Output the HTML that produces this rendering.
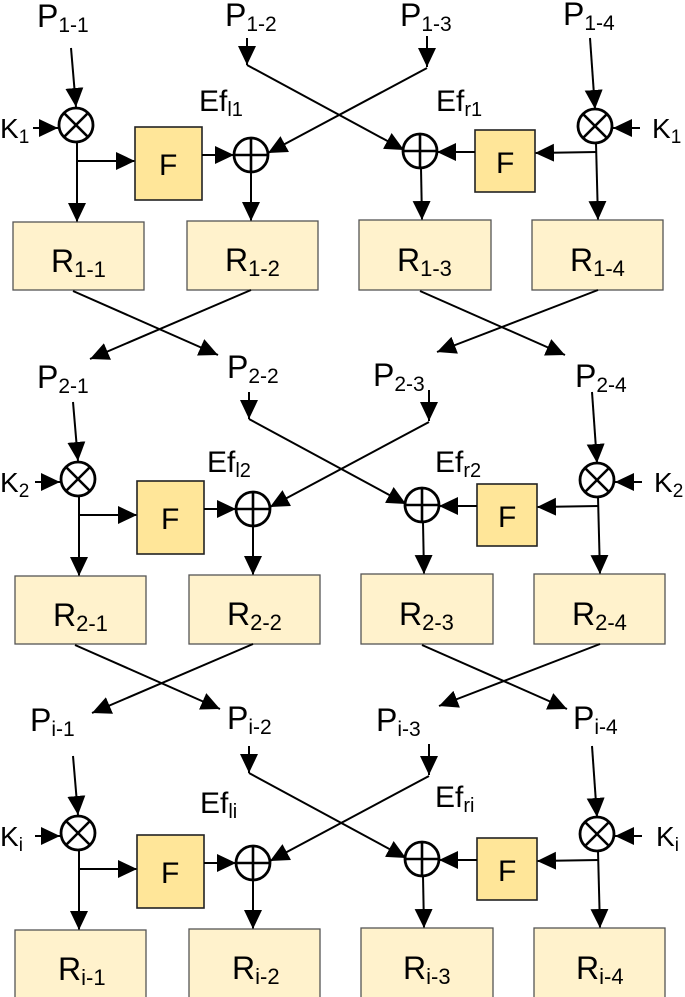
<!DOCTYPE html>
<html><head><meta charset="utf-8"><style>
html,body{margin:0;padding:0;background:#fff;width:685px;height:997px;overflow:hidden}
svg{display:block}
text{font-family:"Liberation Sans",sans-serif;fill:#000}
</style></head><body>
<svg width="685" height="997" viewBox="0 0 685 997" xmlns="http://www.w3.org/2000/svg">
<defs>
<marker id="a" markerUnits="userSpaceOnUse" markerWidth="20" markerHeight="18" refX="19" refY="9" orient="auto">
<path d="M0,0 L19,9 L0,18 Z" fill="#000"/>
</marker>
<g id="row" stroke="#000" stroke-width="2" fill="none">
<line x1="71" y1="48" x2="76" y2="107" marker-end="url(#a)"/>
<line x1="33" y1="128" x2="58" y2="128" marker-end="url(#a)"/>
<circle cx="76" cy="125" r="17" stroke-width="2.8"/>
<line x1="64" y1="113" x2="88" y2="137" stroke-width="2.6"/>
<line x1="88" y1="113" x2="64" y2="137" stroke-width="2.6"/>
<line x1="77" y1="143" x2="77" y2="222" marker-end="url(#a)"/>
<line x1="77" y1="161" x2="135" y2="161" marker-end="url(#a)"/>
<rect x="135" y="127" width="67" height="73" fill="#FFE699" stroke="#222" stroke-width="1.6"/>
<line x1="202" y1="155" x2="234" y2="155" marker-end="url(#a)"/>
<circle cx="251" cy="155" r="17" stroke-width="2.8"/>
<line x1="234" y1="155" x2="268" y2="155" stroke-width="2.6"/>
<line x1="251" y1="138" x2="251" y2="172" stroke-width="2.6"/>
<line x1="251" y1="172" x2="251" y2="221" marker-end="url(#a)"/>
<line x1="247" y1="38" x2="247" y2="65" marker-end="url(#a)"/>
<line x1="247" y1="65" x2="404" y2="150" marker-end="url(#a)"/>
<line x1="427" y1="36" x2="427" y2="67" marker-end="url(#a)"/>
<line x1="427" y1="68" x2="268" y2="153" marker-end="url(#a)"/>
<line x1="590" y1="38" x2="595" y2="109" marker-end="url(#a)"/>
<line x1="640" y1="128" x2="613" y2="128" marker-end="url(#a)"/>
<circle cx="595" cy="126" r="17" stroke-width="2.8"/>
<line x1="583" y1="114" x2="607" y2="138" stroke-width="2.6"/>
<line x1="607" y1="114" x2="583" y2="138" stroke-width="2.6"/>
<line x1="596" y1="143" x2="598" y2="220" marker-end="url(#a)"/>
<line x1="597" y1="152" x2="535" y2="153" marker-end="url(#a)"/>
<rect x="475" y="130" width="60" height="62" fill="#FFE699" stroke="#222" stroke-width="1.6"/>
<line x1="475" y1="152" x2="437" y2="152" marker-end="url(#a)"/>
<circle cx="420" cy="151" r="17" stroke-width="2.8"/>
<line x1="403" y1="151" x2="437" y2="151" stroke-width="2.6"/>
<line x1="420" y1="134" x2="420" y2="168" stroke-width="2.6"/>
<line x1="421" y1="168" x2="422" y2="220" marker-end="url(#a)"/>
<rect x="13" y="222" width="131" height="68" fill="#FFF2CC" stroke="#555" stroke-width="1.3"/>
<rect x="187" y="221" width="131" height="69" fill="#FFF2CC" stroke="#555" stroke-width="1.3"/>
<rect x="359" y="220" width="132" height="70" fill="#FFF2CC" stroke="#555" stroke-width="1.3"/>
<rect x="532" y="220" width="131" height="70" fill="#FFF2CC" stroke="#555" stroke-width="1.3"/>
<line x1="73" y1="291" x2="218" y2="355" marker-end="url(#a)"/>
<line x1="251" y1="290" x2="90" y2="359" marker-end="url(#a)"/>
<line x1="420" y1="291" x2="565" y2="355" marker-end="url(#a)"/>
<line x1="598" y1="290" x2="437" y2="352" marker-end="url(#a)"/>
</g>
</defs>
<use href="#row"/>
<use href="#row" transform="translate(2,354)"/>
<use href="#row" transform="translate(2,708)"/>

<g font-size="32">
<text x="37" y="27">P<tspan font-size="21" dy="5">1-1</tspan></text>
<text x="225" y="26">P<tspan font-size="21" dy="5">1-2</tspan></text>
<text x="400" y="26">P<tspan font-size="21" dy="5">1-3</tspan></text>
<text x="563" y="25">P<tspan font-size="21" dy="5">1-4</tspan></text>
<text x="0" y="138" font-size="28">K<tspan font-size="19" dy="5">1</tspan></text>
<text x="652" y="138" font-size="28">K<tspan font-size="19" dy="5">1</tspan></text>
<text x="199" y="111" font-size="30">Ef<tspan font-size="20" dy="5">l1</tspan></text>
<text x="436" y="111" font-size="30">Ef<tspan font-size="20" dy="5">r1</tspan></text>
<text x="159" y="175" font-size="30">F</text>
<text x="496" y="173" font-size="30">F</text>
<text x="51" y="272">R<tspan font-size="22" dy="5">1-1</tspan></text>
<text x="225" y="271">R<tspan font-size="22" dy="5">1-2</tspan></text>
<text x="397" y="271">R<tspan font-size="22" dy="5">1-3</tspan></text>
<text x="570" y="271">R<tspan font-size="22" dy="5">1-4</tspan></text>

<text x="37" y="388">P<tspan font-size="21" dy="5">2-1</tspan></text>
<text x="227" y="378">P<tspan font-size="21" dy="5">2-2</tspan></text>
<text x="373" y="386">P<tspan font-size="21" dy="5">2-3</tspan></text>
<text x="575" y="387">P<tspan font-size="21" dy="5">2-4</tspan></text>
<text x="0" y="492" font-size="28">K<tspan font-size="19" dy="5">2</tspan></text>
<text x="654" y="492" font-size="28">K<tspan font-size="19" dy="5">2</tspan></text>
<text x="207" y="472" font-size="30">Ef<tspan font-size="20" dy="5">l2</tspan></text>
<text x="435" y="472" font-size="30">Ef<tspan font-size="20" dy="5">r2</tspan></text>
<text x="161" y="529" font-size="30">F</text>
<text x="498" y="527" font-size="30">F</text>
<text x="53" y="626">R<tspan font-size="22" dy="5">2-1</tspan></text>
<text x="227" y="625">R<tspan font-size="22" dy="5">2-2</tspan></text>
<text x="399" y="625">R<tspan font-size="22" dy="5">2-3</tspan></text>
<text x="572" y="625">R<tspan font-size="22" dy="5">2-4</tspan></text>

<text x="30" y="731">P<tspan font-size="21" dy="5">i-1</tspan></text>
<text x="227" y="729">P<tspan font-size="21" dy="5">i-2</tspan></text>
<text x="376" y="731">P<tspan font-size="21" dy="5">i-3</tspan></text>
<text x="573" y="729">P<tspan font-size="21" dy="5">i-4</tspan></text>
<text x="0" y="846" font-size="28">K<tspan font-size="19" dy="5">i</tspan></text>
<text x="656" y="846" font-size="28">K<tspan font-size="19" dy="5">i</tspan></text>
<text x="200" y="813" font-size="30">Ef<tspan font-size="20" dy="5">li</tspan></text>
<text x="435" y="807" font-size="30">Ef<tspan font-size="20" dy="5">ri</tspan></text>
<text x="161" y="883" font-size="30">F</text>
<text x="498" y="881" font-size="30">F</text>
<text x="58" y="980">R<tspan font-size="22" dy="5">i-1</tspan></text>
<text x="232" y="979">R<tspan font-size="22" dy="5">i-2</tspan></text>
<text x="403" y="979">R<tspan font-size="22" dy="5">i-3</tspan></text>
<text x="576" y="979">R<tspan font-size="22" dy="5">i-4</tspan></text>
</g>
</svg>
</body></html>
